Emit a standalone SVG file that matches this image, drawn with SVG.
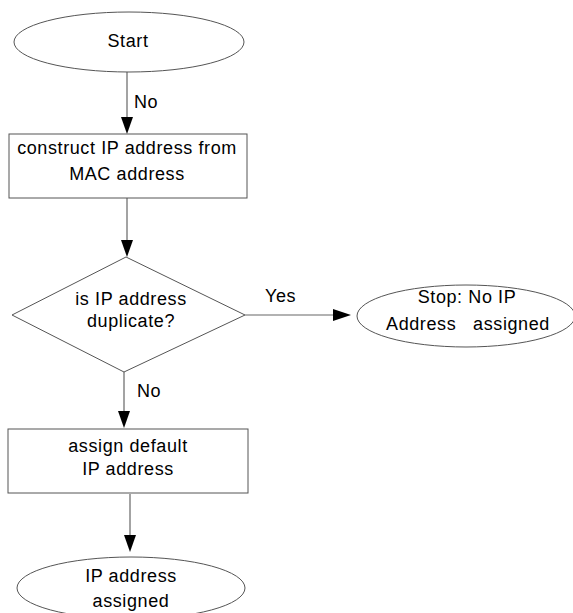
<svg xmlns="http://www.w3.org/2000/svg" width="573" height="613" viewBox="0 0 573 613">
<style>
.shape{fill:#fff;stroke:#555;stroke-width:1}
.line{stroke:#666;stroke-width:1.2;fill:none}
.head{fill:#000;stroke:none}
text{font-family:"Liberation Sans",Arial,sans-serif;font-size:18px;letter-spacing:0.6px;fill:#000}
.c{text-anchor:middle}
</style>
<rect width="573" height="613" fill="#fff"/>
<g id="connectors">
<line class="line" x1="127" y1="72" x2="127" y2="120"/>
<polygon class="head" points="121,117 133,117 127,134"/>
<line class="line" x1="127" y1="198" x2="127" y2="242"/>
<polygon class="head" points="121,240 133,240 127,257"/>
<line class="line" x1="245" y1="315" x2="336" y2="315"/>
<polygon class="head" points="333,309 333,321 351,315"/>
<line class="line" x1="124" y1="372" x2="124" y2="414"/>
<polygon class="head" points="118,411 130,411 124,428"/>
<line class="line" x1="130" y1="494" x2="130" y2="538"/>
<polygon class="head" points="124,535 136,535 130,552"/>
<text x="134" y="108">No</text>
<text x="265" y="302">Yes</text>
<text x="137" y="397">No</text>
</g>
<g id="start">
<ellipse class="shape" cx="129" cy="42" rx="115" ry="30"/>
<text class="c" x="128" y="47">Start</text>
</g>
<g id="construct">
<rect class="shape" x="9" y="134" width="238" height="64"/>
<text class="c" x="127" y="154">construct IP address from</text>
<text class="c" x="127" y="180">MAC address</text>
</g>
<g id="duplicate">
<polygon class="shape" points="126,257 245,315 124,372 12,315"/>
<text class="c" x="131" y="305">is IP address</text>
<text class="c" x="131" y="327">duplicate?</text>
</g>
<g id="stop">
<ellipse class="shape" cx="466" cy="316" rx="109" ry="31"/>
<text class="c" x="467" y="303">Stop: No IP</text>
<text class="c" x="468" y="330" xml:space="preserve">Address   assigned</text>
</g>
<g id="assign">
<rect class="shape" x="8" y="429" width="240" height="64"/>
<text class="c" x="128" y="452">assign default</text>
<text class="c" x="128" y="475">IP address</text>
</g>
<g id="assigned">
<ellipse class="shape" cx="131" cy="588" rx="114" ry="31"/>
<text class="c" x="131" y="582">IP address</text>
<text class="c" x="131" y="607">assigned</text>
</g>
</svg>
